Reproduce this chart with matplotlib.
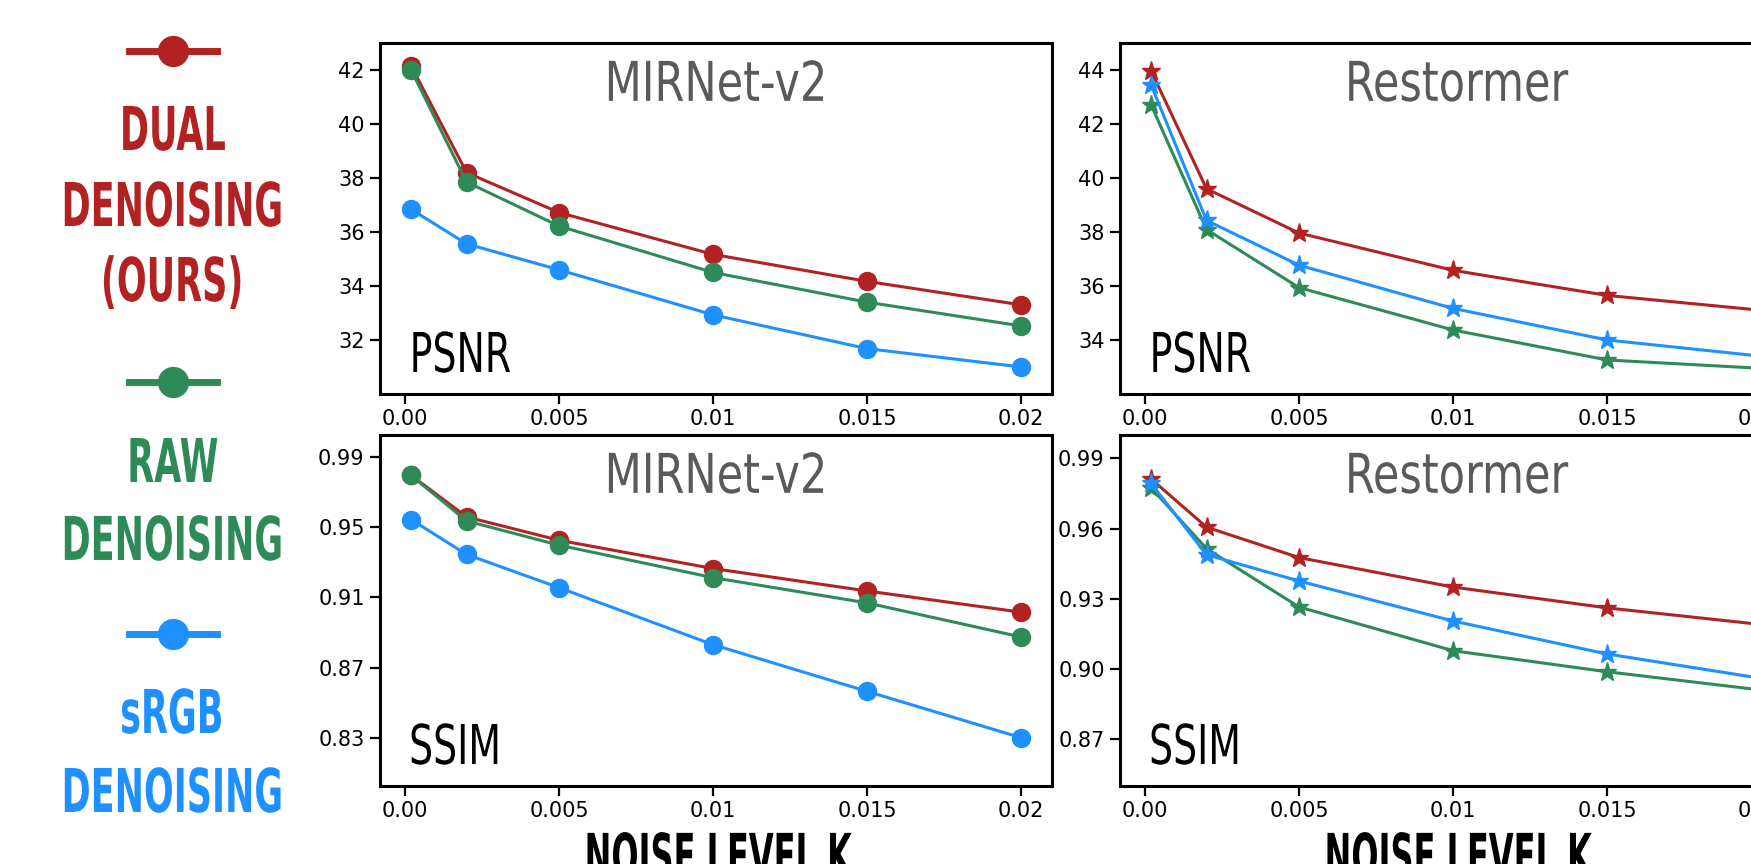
""" Dual vs RAW vs sRGB denoising: PSNR / SSIM against noise level. """
import matplotlib
matplotlib.use("Agg")
import matplotlib.pyplot as plt
from matplotlib import patheffects
from matplotlib.lines import Line2D
from matplotlib.transforms import Affine2D

RED = "#b22222"
GREEN = "#2e8b57"
BLUE = "#1e90ff"
TITLE_GRAY = "#5a5a5a"

# noise level K of every measurement
noise_levels = [0.0002, 0.002, 0.005, 0.01, 0.015, 0.02]
x_ticks = [0.0, 0.005, 0.01, 0.015, 0.02]
x_tick_labels = ["0.00", "0.005", "0.01", "0.015", "0.02"]

series_names = [["DUAL", "DENOISING", "(OURS)"],
                ["RAW", "DENOISING"],
                ["sRGB", "DENOISING"]]
series_colors = [RED, GREEN, BLUE]

# MIRNet-v2
mirnet_psnr_dual = [42.15, 38.2, 36.72, 35.17, 34.17, 33.3]
mirnet_psnr_raw = [42.0, 37.85, 36.22, 34.5, 33.4, 32.52]
mirnet_psnr_srgb = [36.84, 35.56, 34.6, 32.93, 31.68, 31.0]
mirnet_ssim_dual = [0.9795, 0.9558, 0.9425, 0.9264, 0.9136, 0.9015]
mirnet_ssim_raw = [0.9794, 0.9535, 0.9397, 0.9212, 0.9068, 0.8874]
mirnet_ssim_srgb = [0.9543, 0.9344, 0.9155, 0.8830, 0.8564, 0.8300]

# Restormer
restormer_psnr_dual = [43.97, 39.6, 37.96, 36.58, 35.65, 35.1]
restormer_psnr_raw = [42.71, 38.09, 35.94, 34.37, 33.26, 32.95]
restormer_psnr_srgb = [43.45, 38.43, 36.77, 35.17, 34.0, 33.4]
restormer_ssim_dual = [0.9812, 0.9606, 0.9476, 0.935, 0.9261, 0.919]
restormer_ssim_raw = [0.9774, 0.9514, 0.9265, 0.9078, 0.8988, 0.891]
restormer_ssim_srgb = [0.9793, 0.9488, 0.9376, 0.9205, 0.9064, 0.896]

mirnet_psnr_ticks = [32, 34, 36, 38, 40, 42]
restormer_psnr_ticks = [34, 36, 38, 40, 42, 44]
mirnet_ssim_ticks = [0.83, 0.87, 0.91, 0.95, 0.99]
restormer_ssim_ticks = [0.87, 0.90, 0.93, 0.96, 0.99]


class Squeeze(patheffects.AbstractPathEffect):
    """Narrow the glyphs horizontally (condensed look) keeping the text in place."""

    def __init__(self, sx, anchor="center"):
        super().__init__()
        self.sx = sx
        self.anchor = anchor

    def draw_path(self, renderer, gc, tpath, affine, rgbFace=None):
        ext = tpath.get_extents()
        cx = ext.x0 if self.anchor == "left" else (ext.x0 + ext.x1) / 2
        squeeze = Affine2D().translate(-cx, 0).scale(self.sx, 1).translate(cx, 0)
        renderer.draw_path(gc, tpath, squeeze + affine, rgbFace)


def draw_panel(ax, title, metric, values, marker, ylim, yticks, fmt):
    """Draw one model / metric panel."""
    for vals, color in zip(values, series_colors):
        ax.plot(noise_levels, vals, color=color, lw=2.2, marker=marker,
                ms=13 if marker == "o" else 14, mec=color, mfc=color)

    ax.set_xlim(-0.00081, 0.021)
    ax.set_ylim(*ylim)
    ax.set_xticks(x_ticks)
    ax.set_xticklabels(x_tick_labels)
    ax.set_yticks(yticks)
    ax.set_yticklabels([fmt.format(t) for t in yticks])
    ax.tick_params(direction="out", length=7, width=1.6, labelsize=15, pad=4)
    for side in ["top", "right", "bottom", "left"]:
        ax.spines[side].set_linewidth(2.2)

    ax.text(0.5, 0.835, title, transform=ax.transAxes, ha="center",
            va="baseline", color=TITLE_GRAY, fontsize=39.5,
            path_effects=[Squeeze(0.785)])
    ax.text(0.0417, 0.0627, metric, transform=ax.transAxes, ha="left",
            va="baseline", color="black", fontsize=39.5,
            path_effects=[Squeeze(0.69, anchor="left")])


def main() -> None:
    """App main's function. """
    fig = plt.figure(figsize=(17.51, 8.64), dpi=100)

    w, h = 0.3838, 0.4063
    ax_mp = fig.add_axes([0.2170, 0.5440, w, h])
    ax_ms = fig.add_axes([0.2170, 0.0903, w, h])
    ax_rp = fig.add_axes([0.6396, 0.5440, w, h])
    ax_rs = fig.add_axes([0.6396, 0.0903, w, h])

    draw_panel(ax_mp, "MIRNet-v2", "PSNR",
               [mirnet_psnr_dual, mirnet_psnr_raw, mirnet_psnr_srgb],
               "o", (30, 43), mirnet_psnr_ticks, "{:.0f}")
    draw_panel(ax_ms, "MIRNet-v2", "SSIM",
               [mirnet_ssim_dual, mirnet_ssim_raw, mirnet_ssim_srgb],
               "o", (0.8025, 1.0025), mirnet_ssim_ticks, "{:.2f}")
    draw_panel(ax_rp, "Restormer", "PSNR",
               [restormer_psnr_dual, restormer_psnr_raw, restormer_psnr_srgb],
               "*", (32, 45), restormer_psnr_ticks, "{:.0f}")
    draw_panel(ax_rs, "Restormer", "SSIM",
               [restormer_ssim_dual, restormer_ssim_raw, restormer_ssim_srgb],
               "*", (0.85, 1.0), restormer_ssim_ticks, "{:.2f}")

    for ax in [ax_ms, ax_rs]:
        ax.set_xlabel("NOISE LEVEL K", fontsize=43.5, fontweight="bold",
                      va="top", path_effects=[Squeeze(0.53)])
        ax.xaxis.set_label_coords(0.5, -0.128)

    # hand-made legend on the left: icon, then the label line by line
    icon_y = [0.9410, 0.5579, 0.2662]
    line_y = [[0.8264, 0.7384, 0.6516], [0.4421, 0.3519], [0.1516, 0.0602]]
    for lines, color, iy, ys in zip(series_names, series_colors, icon_y, line_y):
        fig.add_artist(Line2D([0.0737, 0.0988, 0.1239], [iy, iy, iy],
                              transform=fig.transFigure, color=color, lw=5,
                              marker="o", ms=21.5, markevery=[1]))
        for line, ly in zip(lines, ys):
            fig.text(0.0982, ly, line, ha="center", va="baseline", color=color,
                     fontsize=43.5, fontweight="bold",
                     path_effects=[Squeeze(0.58)])

    fig.savefig("out.png", dpi=100)
    plt.close(fig)


if __name__ == "__main__":
    main()
